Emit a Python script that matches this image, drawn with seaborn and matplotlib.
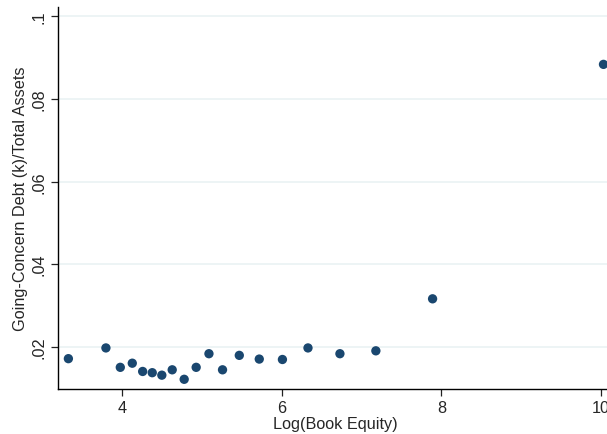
import matplotlib
matplotlib.use("Agg")
import matplotlib.pyplot as plt
import seaborn as sns
import pandas as pd

# binned scatter values
log_book_equity = [3.33, 3.80, 3.98, 4.13, 4.26, 4.38, 4.50, 4.63, 4.78, 4.93,
                   5.09, 5.26, 5.47, 5.72, 6.01, 6.33, 6.73, 7.18, 7.89, 10.03]
gc_debt_ratio = [0.0171, 0.0197, 0.0150, 0.0160, 0.0140, 0.0137, 0.0131, 0.0144, 0.0121, 0.0150,
                 0.0183, 0.0144, 0.0179, 0.0170, 0.0169, 0.0197, 0.0183, 0.0190, 0.0316, 0.0884]
x_ticks = [4, 6, 8, 10]
y_ticks = [0.02, 0.04, 0.06, 0.08, 0.10]
y_tick_labels = [".02", ".04", ".06", ".08", ".1"]

df = pd.DataFrame({"x": log_book_equity, "y": gc_debt_ratio})

sns.set_style("white")
plt.rcParams["font.family"] = ["Liberation Sans", "DejaVu Sans"]

fig = plt.figure(figsize=(6.07, 4.35), dpi=100)
ax = fig.add_axes([58 / 607, 1 - 390 / 435, 1 - 58 / 607 + 0.01, (390 - 8) / 435])

for yv in y_ticks:
    ax.axhline(yv, color="#eaf2f3", lw=1.2, zorder=0)

sns.scatterplot(data=df, x="x", y="y", ax=ax, color="#1a476f", s=45,
                edgecolor="none", zorder=3, clip_on=False)

ax.set_xlim(3.2, 10.15)
ax.set_ylim(0.00975, 0.1023)
ax.set_xticks(x_ticks)
ax.set_xticklabels([str(t) for t in x_ticks])
ax.set_yticks(y_ticks)
ax.set_yticklabels(y_tick_labels, rotation=90, va="center")
ax.tick_params(axis="both", direction="out", length=5, width=0.9, color="#222222",
               labelsize=11.7, pad=3, left=True, bottom=True)
ax.set_xlabel("Log(Book Equity)", fontsize=11.7, labelpad=1)
ax.set_ylabel("Going-Concern Debt (k)/Total Assets", fontsize=11.7, labelpad=3)

sns.despine(ax=ax, top=True, right=True)
for side in ["left", "bottom"]:
    ax.spines[side].set_color("black")
    ax.spines[side].set_linewidth(1.0)

fig.savefig("out.png", dpi=100)
